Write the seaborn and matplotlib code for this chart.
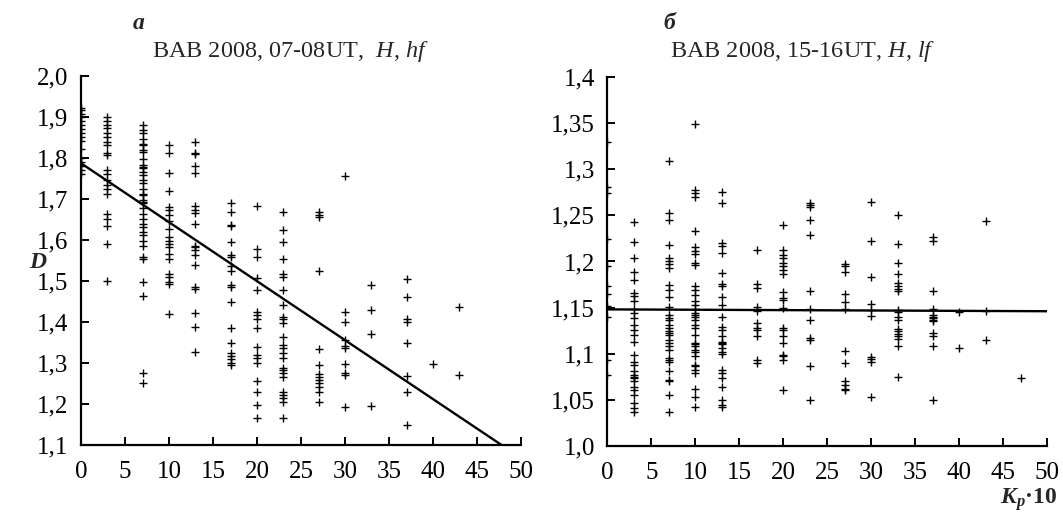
import matplotlib
matplotlib.use("Agg")
import matplotlib.pyplot as plt
import numpy as np
import pandas as pd
import seaborn as sns
from matplotlib.ticker import FuncFormatter, MultipleLocator

# Fractal dimension D per Kp*10 level, BAB 2008, 07-08UT, H, hf
d_hf = {
    0: [1.92, 1.915, 1.905, 1.90, 1.89, 1.88, 1.87, 1.86, 1.85, 1.84, 1.82, 1.80, 1.79, 1.78, 1.77, 1.76],
    3: [1.90, 1.89, 1.879, 1.871, 1.859, 1.849, 1.838, 1.83, 1.81, 1.806, 1.769, 1.76, 1.745, 1.733,
        1.724, 1.712, 1.663, 1.65, 1.634, 1.59, 1.50],
    7: [1.879, 1.868, 1.859, 1.844, 1.834, 1.83, 1.818, 1.814, 1.797, 1.781, 1.778, 1.774, 1.765, 1.757,
        1.745, 1.737, 1.724, 1.712, 1.708, 1.696, 1.692, 1.688, 1.676, 1.663, 1.65, 1.638, 1.63, 1.618,
        1.61, 1.597, 1.585, 1.557, 1.553, 1.496, 1.463, 1.274, 1.251],
    10: [1.83, 1.81, 1.762, 1.718, 1.679, 1.671, 1.659, 1.646, 1.626, 1.606, 1.597, 1.59, 1.581, 1.565,
         1.553, 1.516, 1.508, 1.496, 1.492, 1.418],
    13: [1.838, 1.811, 1.808, 1.78, 1.762, 1.681, 1.672, 1.664, 1.638, 1.585, 1.581, 1.575, 1.561, 1.538,
         1.484, 1.48, 1.42, 1.386, 1.326],
    17: [1.688, 1.668, 1.636, 1.632, 1.594, 1.562, 1.557, 1.536, 1.522, 1.488, 1.484, 1.448, 1.383,
         1.348, 1.322, 1.316, 1.308, 1.298, 1.294],
    20: [1.682, 1.578, 1.557, 1.506, 1.476, 1.424, 1.416, 1.405, 1.383, 1.339, 1.318, 1.31, 1.30, 1.256,
         1.229, 1.196, 1.164],
    23: [1.668, 1.623, 1.593, 1.552, 1.516, 1.508, 1.476, 1.44, 1.412, 1.405, 1.396, 1.361, 1.343, 1.335,
         1.324, 1.31, 1.286, 1.282, 1.274, 1.265, 1.229, 1.221, 1.213, 1.204, 1.164],
    27: [1.668, 1.66, 1.655, 1.522, 1.332, 1.293, 1.272, 1.264, 1.257, 1.249, 1.24, 1.229, 1.204],
    30: [1.755, 1.422, 1.40, 1.355, 1.34, 1.336, 1.296, 1.274, 1.27, 1.191],
    33: [1.489, 1.427, 1.369, 1.194],
    37: [1.503, 1.459, 1.405, 1.40, 1.348, 1.267, 1.228, 1.148],
    40: [1.296],
    43: [1.435, 1.269],
}

# Fractal dimension D per Kp*10 level, BAB 2008, 15-16UT, H, lf
d_lf = {
    0: [1.330, 1.281, 1.274, 1.224, 1.195, 1.173, 1.165, 1.152, 1.14, 1.093, 1.077],
    3: [1.243, 1.221, 1.204, 1.189, 1.180, 1.166, 1.162, 1.157, 1.148, 1.144, 1.139, 1.131, 1.126, 1.12,
        1.113, 1.099, 1.091, 1.088, 1.081, 1.077, 1.075, 1.073, 1.070, 1.064, 1.061, 1.055, 1.046, 1.041,
        1.037],
    7: [1.309, 1.253, 1.245, 1.218, 1.204, 1.20, 1.197, 1.193, 1.175, 1.169, 1.161, 1.151, 1.142, 1.139,
        1.137, 1.131, 1.128, 1.124, 1.122, 1.12, 1.115, 1.111, 1.108, 1.104, 1.095, 1.093, 1.091, 1.081,
        1.071, 1.07, 1.055, 1.037],
    10: [1.349, 1.278, 1.274, 1.27, 1.233, 1.216, 1.211, 1.208, 1.198, 1.196, 1.173, 1.169, 1.164, 1.157,
         1.153, 1.148, 1.144, 1.142, 1.140, 1.137, 1.131, 1.128, 1.12, 1.111, 1.11, 1.108, 1.104, 1.102,
         1.097, 1.088, 1.086, 1.082, 1.079, 1.062, 1.053, 1.042],
    13: [1.275, 1.264, 1.22, 1.217, 1.209, 1.187, 1.176, 1.173, 1.161, 1.153, 1.14, 1.129, 1.126, 1.119,
         1.113, 1.111, 1.11, 1.106, 1.102, 1.10, 1.082, 1.079, 1.074, 1.064, 1.05, 1.044, 1.042],
    17: [1.213, 1.176, 1.171, 1.151, 1.146, 1.133, 1.128, 1.126, 1.119, 1.093, 1.09],
    20: [1.24, 1.213, 1.207, 1.204, 1.198, 1.195, 1.191, 1.186, 1.167, 1.16, 1.158, 1.149, 1.128, 1.126,
         1.119, 1.111, 1.099, 1.097, 1.093, 1.061],
    23: [1.264, 1.261, 1.259, 1.245, 1.229, 1.168, 1.148, 1.137, 1.117, 1.115, 1.086, 1.05],
    27: [1.197, 1.195, 1.189, 1.165, 1.156, 1.148, 1.103, 1.09, 1.07, 1.066, 1.062, 1.06],
    30: [1.265, 1.222, 1.183, 1.154, 1.147, 1.141, 1.096, 1.094, 1.091, 1.053],
    33: [1.25, 1.219, 1.198, 1.186, 1.177, 1.173, 1.17, 1.168, 1.147, 1.145, 1.14, 1.137, 1.127, 1.124,
         1.121, 1.119, 1.116, 1.108, 1.075],
    37: [1.227, 1.222, 1.168, 1.148, 1.142, 1.14, 1.139, 1.137, 1.135, 1.122, 1.119, 1.108, 1.05],
    40: [1.145, 1.106],
    43: [1.244, 1.146, 1.115],
    47: [1.073],
}

# Linear fits D = a + b * (Kp*10)
fit_hf = (1.786, -0.01438)
fit_lf = (1.148, -0.00004)

titles = ["BAB 2008, 07-08UT,  $H$, $hf$", "BAB 2008, 15-16UT, $H$, $lf$"]
panel_tags = ["a", "б"]

sns.set_theme(style="ticks")
plt.rcParams["font.family"] = ["Liberation Serif", "DejaVu Serif"]
plt.rcParams["mathtext.fontset"] = "custom"
plt.rcParams["mathtext.rm"] = "Liberation Serif"
plt.rcParams["mathtext.it"] = "Liberation Serif:italic"
plt.rcParams["mathtext.bf"] = "Liberation Serif:bold"
plt.rcParams["mathtext.bfit"] = "Liberation Serif:italic:bold"


def to_frame(d):
    rows = [(k, v) for k, vals in d.items() for v in vals]
    return pd.DataFrame(rows, columns=["kp", "D"])


def comma_fmt(v, _pos):
    s = f"{v:.2f}".rstrip("0")
    if s.endswith("."):
        s += "0"
    return s.replace(".", ",")


fig = plt.figure(figsize=(10.63, 5.14), dpi=100)
ax_a = fig.add_axes([0.0762, 0.1352, 0.4139, 0.7179])
ax_b = fig.add_axes([0.5713, 0.1329, 0.4139, 0.7167])

panels = [
    (ax_a, d_hf, fit_hf, (1.1, 2.0), 0.1),
    (ax_b, d_lf, fit_lf, (1.0, 1.4), 0.05),
]

for ax, data, (a, b), ylim, ystep in panels:
    df = to_frame(data)
    sns.scatterplot(data=df, x="kp", y="D", marker="+", color="black", s=30,
                    linewidth=1.0, ax=ax, legend=False, zorder=3)
    xs = np.array([0.0, 50.0])
    sns.lineplot(x=xs, y=a + b * xs, color="black", linewidth=1.7, ax=ax, zorder=4)
    ax.set_xlim(0, 50)
    ax.set_ylim(*ylim)
    ax.xaxis.set_major_locator(MultipleLocator(5))
    ax.yaxis.set_major_locator(MultipleLocator(ystep))
    ax.yaxis.set_major_formatter(FuncFormatter(comma_fmt))
    ax.set_xlabel("")
    ax.set_ylabel("")
    for side in ("top", "right"):
        ax.spines[side].set_visible(False)
    for side in ("left", "bottom"):
        ax.spines[side].set_linewidth(1.6)
        ax.spines[side].set_color("black")
    ax.tick_params(direction="in", length=6, width=1.4, colors="black",
                   labelsize=18)
    ax.tick_params(axis="x", pad=12)
    ax.tick_params(axis="y", pad=9)
    ax.set_facecolor("white")

# Panel headers
fig.text(0.125, 0.955, panel_tags[0], fontsize=17, style="italic", weight="bold", ha="left", va="center")
fig.text(0.273, 0.900, titles[0], fontsize=17.5, ha="center", va="center")
fig.text(0.624, 0.955, panel_tags[1], fontsize=17, style="italic", weight="bold", ha="left", va="center")
fig.text(0.755, 0.900, titles[1], fontsize=17.5, ha="center", va="center")

# Axis labels
fig.text(0.036, 0.49, "$\\mathbfit{D}$", fontsize=17, ha="center", va="center")
fig.text(0.995, 0.028, "$\\mathbfit{K}_{\\mathbfit{p}}$·10", fontsize=17, weight="bold",
         ha="right", va="center")

fig.savefig("out.png", dpi=100, facecolor="white")
